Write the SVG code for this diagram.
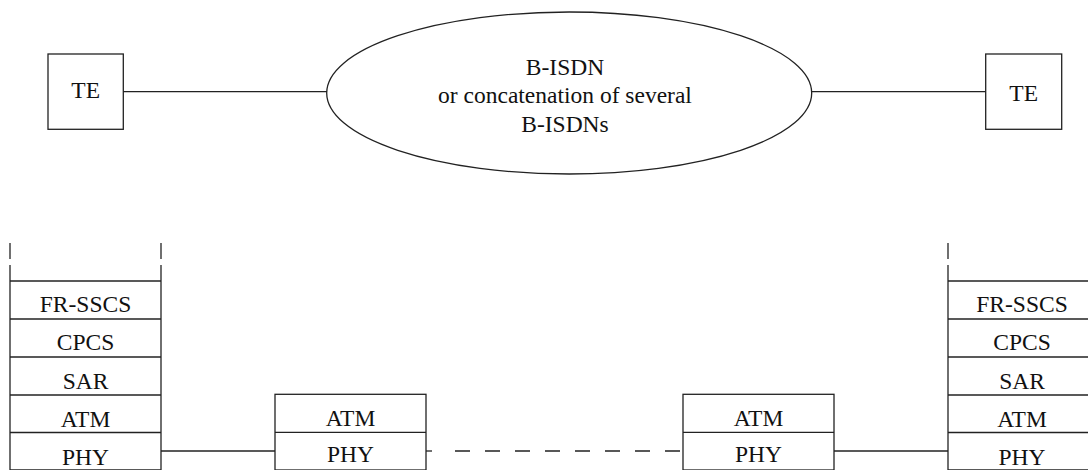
<svg xmlns="http://www.w3.org/2000/svg" width="1088" height="470" viewBox="0 0 1088 470">
<style>
.s{fill:none;stroke:#222;stroke-width:1.3}
.t{font-family:"Liberation Serif","Times New Roman",serif;font-size:23.5px;fill:#111;text-anchor:middle}
.d{stroke-dasharray:15 15}
</style>
<rect x="0" y="0" width="1088" height="470" fill="#fff"/>
<g id="connectors">
<line class="s" x1="123" y1="91.7" x2="327" y2="91.7"/>
<line class="s" x1="811.7" y1="91.7" x2="985.7" y2="91.7"/>
<line class="s" x1="161" y1="451" x2="275" y2="451"/>
<line class="s" x1="426" y1="451" x2="432" y2="451"/>
<line class="s d" x1="455" y1="451" x2="683" y2="451"/>
<line class="s" x1="834" y1="451" x2="948" y2="451"/>
</g>
<g id="te-left">
<rect class="s" x="48" y="54" width="75.3" height="75.3"/>
<text class="t" x="85.7" y="98.3">TE</text>
</g>
<g id="te-right">
<rect class="s" x="985.7" y="54" width="76" height="75.3"/>
<text class="t" x="1023.7" y="101">TE</text>
</g>
<g id="network">
<ellipse class="s" cx="569.2" cy="93" rx="242.5" ry="81"/>
<text class="t" x="565" y="75">B-ISDN</text>
<text class="t" x="565" y="103.3">or concatenation of several</text>
<text class="t" x="565" y="131.7">B-ISDNs</text>
</g>
<g id="stack-left">
<line class="s" x1="10" y1="243" x2="10" y2="259"/>
<line class="s" x1="161" y1="243" x2="161" y2="259"/>
<line class="s" x1="10" y1="265" x2="10" y2="470"/>
<line class="s" x1="161" y1="265" x2="161" y2="470"/>
<line class="s" x1="10" y1="281" x2="161" y2="281"/>
<line class="s" x1="10" y1="319" x2="161" y2="319"/>
<line class="s" x1="10" y1="357" x2="161" y2="357"/>
<line class="s" x1="10" y1="395" x2="161" y2="395"/>
<line class="s" x1="10" y1="432.5" x2="161" y2="432.5"/>
<line class="s" x1="10" y1="470" x2="161" y2="470"/>
<text class="t" x="85.5" y="311.7">FR-SSCS</text>
<text class="t" x="85.5" y="350">CPCS</text>
<text class="t" x="85.5" y="388.5">SAR</text>
<text class="t" x="85.5" y="427">ATM</text>
<text class="t" x="85.5" y="464.5">PHY</text>
</g>
<g id="relay-left">
<rect class="s" x="275" y="394.3" width="151" height="75.7"/>
<line class="s" x1="275" y1="432.3" x2="426" y2="432.3"/>
<text class="t" x="350.5" y="426">ATM</text>
<text class="t" x="350.5" y="462">PHY</text>
</g>
<g id="relay-right">
<rect class="s" x="683" y="394.3" width="151" height="75.7"/>
<line class="s" x1="683" y1="432.3" x2="834" y2="432.3"/>
<text class="t" x="758.5" y="425.5">ATM</text>
<text class="t" x="758.5" y="462">PHY</text>
</g>
<g id="stack-right">
<line class="s" x1="948" y1="243" x2="948" y2="259"/>
<line class="s" x1="948" y1="265" x2="948" y2="470"/>
<line class="s" x1="1096" y1="265" x2="1096" y2="470"/>
<line class="s" x1="948" y1="281" x2="1096" y2="281"/>
<line class="s" x1="948" y1="319" x2="1096" y2="319"/>
<line class="s" x1="948" y1="357" x2="1096" y2="357"/>
<line class="s" x1="948" y1="395" x2="1096" y2="395"/>
<line class="s" x1="948" y1="432.5" x2="1096" y2="432.5"/>
<line class="s" x1="948" y1="470" x2="1096" y2="470"/>
<text class="t" x="1022" y="311.7">FR-SSCS</text>
<text class="t" x="1022" y="350">CPCS</text>
<text class="t" x="1022" y="388.5">SAR</text>
<text class="t" x="1022" y="427">ATM</text>
<text class="t" x="1022" y="464.5">PHY</text>
</g>
</svg>
